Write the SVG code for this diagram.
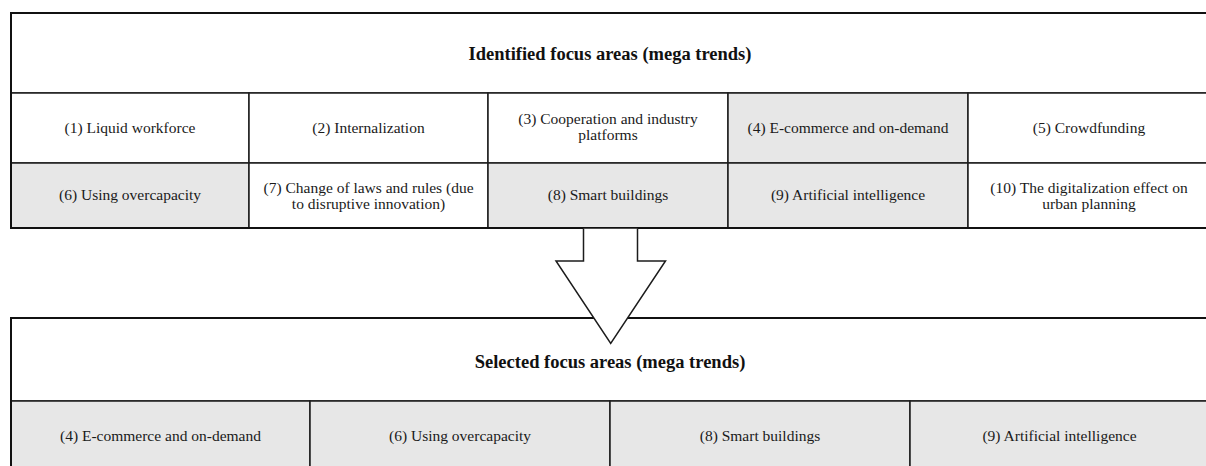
<svg xmlns="http://www.w3.org/2000/svg" width="1206" height="466" viewBox="0 0 1206 466" font-family="'Liberation Serif', 'Times New Roman', serif">
<style>
  .cell { stroke: #1c1c1c; stroke-width: 1.5; }
  .w { fill: #ffffff; }
  .g { fill: #e7e7e7; }
  .outer { fill: none; stroke: #111111; stroke-width: 2; }
  text.lbl { font-family: 'Liberation Serif', 'Times New Roman', serif; font-size: 15.5px; font-weight: normal; fill: #1a1a1a; text-anchor: middle; }
  text.hdr { font-family: 'Liberation Serif', 'Times New Roman', serif; font-size: 18.5px; font-weight: bold; fill: #111111; text-anchor: middle; }
  .arrow { fill: none; stroke: #1c1c1c; stroke-width: 1.5; stroke-linejoin: miter; }
</style>
<rect x="0" y="0" width="1206" height="466" fill="#ffffff"/>

<g id="top-table">
  <g id="top-header">
    <rect class="cell w" x="11" y="13" width="1199" height="80"/>
    <text class="hdr" x="610" y="59.5">Identified focus areas (mega trends)</text>
  </g>
  <g id="t1">
    <rect class="cell w" x="11" y="93" width="238" height="70"/>
    <text class="lbl" x="130" y="133">(1) Liquid workforce</text>
  </g>
  <g id="t2">
    <rect class="cell w" x="249" y="93" width="239" height="70"/>
    <text class="lbl" x="368.5" y="133">(2) Internalization</text>
  </g>
  <g id="t3">
    <rect class="cell w" x="488" y="93" width="240" height="70"/>
    <text class="lbl" x="608" y="124">(3) Cooperation and industry</text>
    <text class="lbl" x="608" y="140">platforms</text>
  </g>
  <g id="t4">
    <rect class="cell g" x="728" y="93" width="240" height="70"/>
    <text class="lbl" x="848" y="133">(4) E-commerce and on-demand</text>
  </g>
  <g id="t5">
    <rect class="cell w" x="968" y="93" width="242" height="70"/>
    <text class="lbl" x="1089" y="133">(5) Crowdfunding</text>
  </g>
  <g id="t6">
    <rect class="cell g" x="11" y="163" width="238" height="65"/>
    <text class="lbl" x="130" y="200">(6) Using overcapacity</text>
  </g>
  <g id="t7">
    <rect class="cell w" x="249" y="163" width="239" height="65"/>
    <text class="lbl" x="368.5" y="192.5">(7) Change of laws and rules (due</text>
    <text class="lbl" x="368.5" y="208.5">to disruptive innovation)</text>
  </g>
  <g id="t8">
    <rect class="cell g" x="488" y="163" width="240" height="65"/>
    <text class="lbl" x="608" y="200">(8) Smart buildings</text>
  </g>
  <g id="t9">
    <rect class="cell g" x="728" y="163" width="240" height="65"/>
    <text class="lbl" x="848" y="200">(9) Artificial intelligence</text>
  </g>
  <g id="t10">
    <rect class="cell w" x="968" y="163" width="242" height="65"/>
    <text class="lbl" x="1089" y="192.5">(10) The digitalization effect on</text>
    <text class="lbl" x="1089" y="208.5">urban planning</text>
  </g>
  <rect class="outer" x="11" y="13" width="1199" height="215"/>
</g>

<g id="bottom-table">
  <g id="bottom-header">
    <rect class="cell w" x="11" y="318" width="1199" height="83"/>
    <text class="hdr" x="610" y="368">Selected focus areas (mega trends)</text>
  </g>
  <g id="s4">
    <rect class="cell g" x="11" y="401" width="299" height="70"/>
    <text class="lbl" x="160.5" y="441">(4) E-commerce and on-demand</text>
  </g>
  <g id="s6">
    <rect class="cell g" x="310" y="401" width="300" height="70"/>
    <text class="lbl" x="460" y="441">(6) Using overcapacity</text>
  </g>
  <g id="s8">
    <rect class="cell g" x="610" y="401" width="300" height="70"/>
    <text class="lbl" x="760" y="441">(8) Smart buildings</text>
  </g>
  <g id="s9">
    <rect class="cell g" x="910" y="401" width="300" height="70"/>
    <text class="lbl" x="1059.5" y="441">(9) Artificial intelligence</text>
  </g>
  <rect class="outer" x="11" y="318" width="1199" height="153"/>
</g>

<g id="connectors">
  <polygon points="583.5,228.8 583.5,261 556,261 610.7,343.3 665.5,261 637.5,261 637.5,228.8" fill="#ffffff" stroke="none"/>
  <polyline class="arrow" points="583.5,228.8 583.5,261 556,261 610.7,343.3 665.5,261 637.5,261 637.5,228.8"/>
</g>
</svg>
